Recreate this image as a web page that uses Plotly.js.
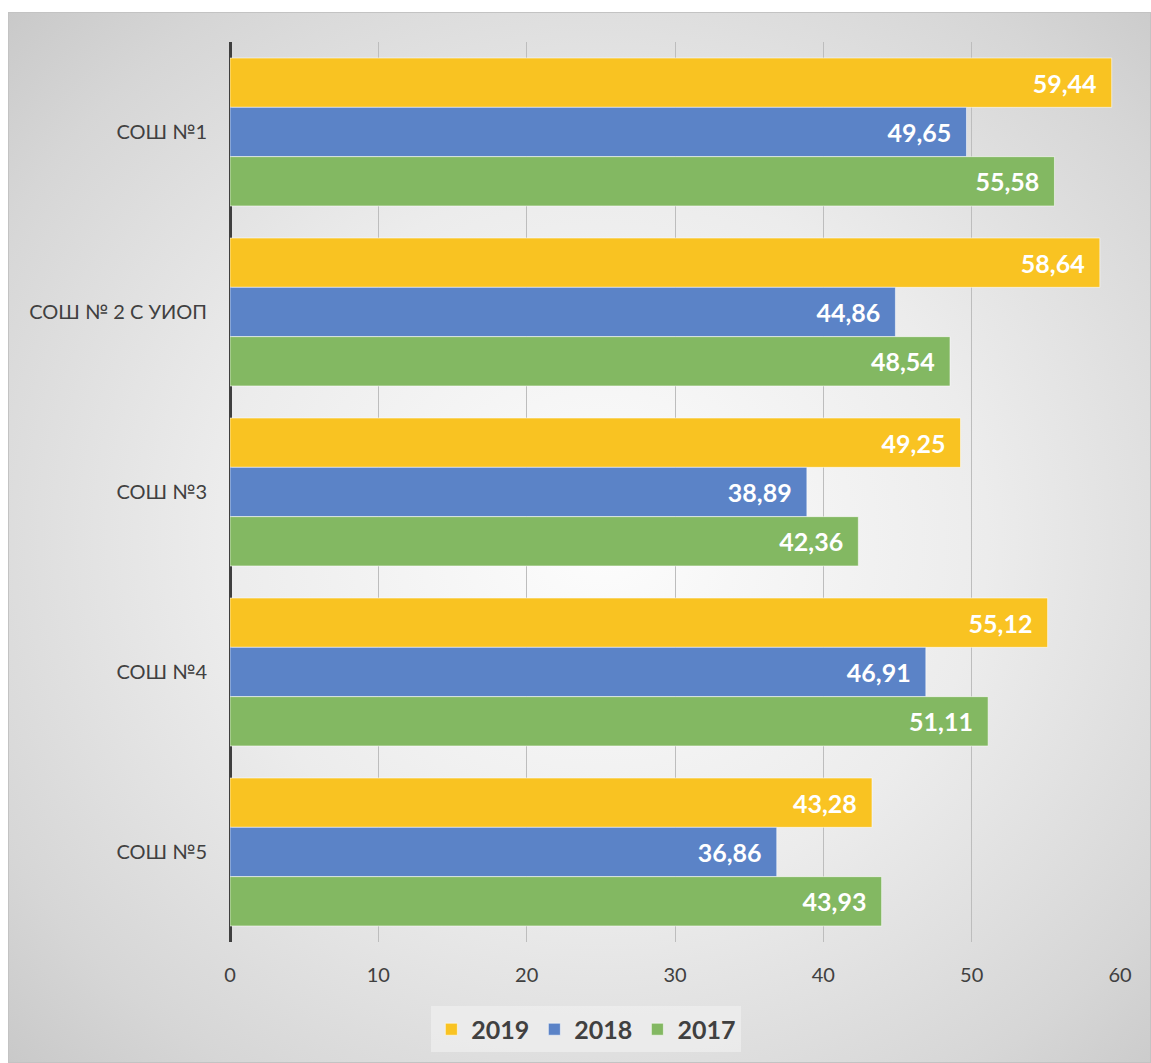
<!DOCTYPE html>
<html>
<head>
<meta charset="utf-8">
<script src="https://cdn.plot.ly/plotly-3.0.1.min.js"></script>
<style>
  html, body { margin: 0; padding: 0; background: #ffffff; }
  #wrap {
    position: absolute; left: 8px; top: 12px; width: 1141px; height: 1049px;
    border: 1px solid #c3c3c3;
    background: radial-gradient(ellipse 75% 75% at 52% 50%, #fdfdfd 0%, #ececec 45%, #d6d6d6 80%, #c6c6c6 100%);
  }
  #chart { width: 1141px; height: 1049px; }
</style>
</head>
<body>
<div id="wrap"><div id="chart"></div></div>
<script>
const categories = ["СОШ №1", "СОШ № 2 С УИОП", "СОШ №3", "СОШ №4", "СОШ №5"];
const seriesNames = ["2019", "2018", "2017"];
const values2019 = [59.44, 58.64, 49.25, 55.12, 43.28];
const values2018 = [49.65, 44.86, 38.89, 46.91, 36.86];
const values2017 = [55.58, 48.54, 42.36, 51.11, 43.93];
const xTicks = [0, 10, 20, 30, 40, 50, 60];

const colors = ["#F9C322", "#5B83C7", "#83B862"];
const seriesValues = [values2019, values2018, values2017];

const font = "Lato, 'Open Sans', sans-serif";

const traces = seriesNames.map((name, i) => ({
  type: "bar",
  orientation: "h",
  name: name,
  y: categories,
  x: seriesValues[i],
  marker: { color: colors[i], line: { color: "rgba(255,255,255,0.55)", width: 1 } },
  texttemplate: "%{x:.2f}\u00a0\u00a0",
  textposition: "inside",
  insidetextanchor: "end",
  textangle: 0,
  constraintext: "none",
  textfont: { family: font, size: 25, color: "#ffffff", weight: "bold" },
  hoverinfo: "skip"
}));

const layout = {
  width: 1141, height: 1049,
  paper_bgcolor: "rgba(0,0,0,0)",
  plot_bgcolor: "rgba(0,0,0,0)",
  separators: ",.",
  barmode: "group",
  bargap: 0.178,
  bargroupgap: 0,
  margin: { l: 221, r: 30, t: 29, b: 120 },
  font: { family: font, color: "#404040" },
  xaxis: {
    range: [0, 60],
    tickvals: xTicks,
    showgrid: true, gridcolor: "#bdbdbd", gridwidth: 1,
    zeroline: true, zerolinecolor: "#3f3f3f", zerolinewidth: 3,
    showline: false,
    ticks: "",
    ticklabelstandoff: 19,
    tickfont: { family: font, size: 20, color: "#404040" },
    fixedrange: true
  },
  yaxis: {
    type: "category",
    autorange: "reversed",
    showgrid: false, zeroline: false, showline: false,
    ticks: "",
    ticklabelstandoff: 22,
    tickfont: { family: font, size: 20, color: "#404040" },
    fixedrange: true
  },
  showlegend: true,
  legend: {
    orientation: "h",
    xref: "container", yref: "container",
    x: 0.506, xanchor: "center",
    y: 0.031, yanchor: "middle",
    bgcolor: "rgba(240,240,240,0.7)",
    font: { family: font, size: 25, color: "#404040", weight: "bold" },
    itemwidth: 30,
    traceorder: "normal"
  }
};

Plotly.newPlot("chart", traces, layout, { displayModeBar: false, staticPlot: true });
</script>
</body>
</html>
